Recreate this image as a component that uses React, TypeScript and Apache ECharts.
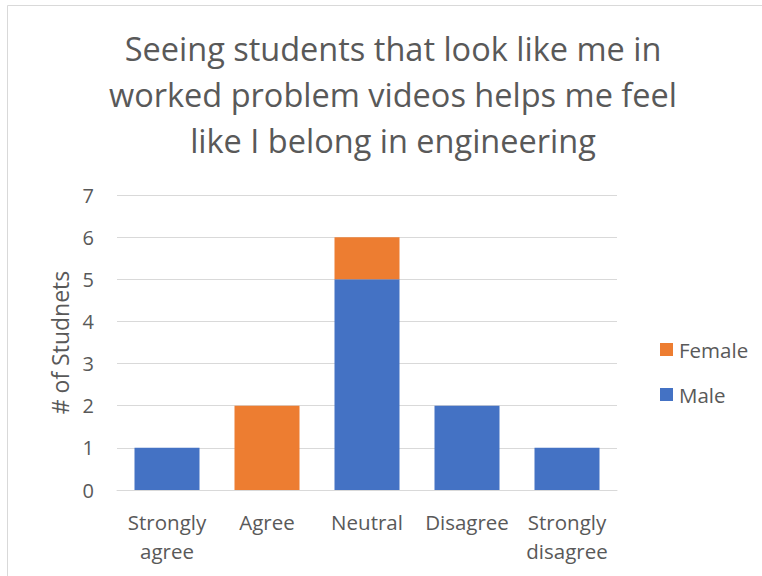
import React, { useEffect, useRef } from "react";
import * as echarts from "echarts";

const categories = ["Strongly\nagree", "Agree", "Neutral", "Disagree", "Strongly\ndisagree"];
const maleValues = [1, 0, 5, 2, 1];
const femaleValues = [0, 2, 1, 0, 0];
const titleLines = [
  "Seeing students that look like me in",
  "worked problem videos helps me feel",
  "like I belong in engineering",
];
const yAxisName = "# of Studnets";

const FONT = "'Open Sans', Lato, sans-serif";
const TEXT = "#595959";

export default function App() {
  const ref = useRef<HTMLDivElement>(null);
  useEffect(() => {
    if (!ref.current) return;
    const chart = echarts.init(ref.current, undefined, { renderer: "svg" });
    chart.setOption({
      animation: false,
      backgroundColor: "#ffffff",
      textStyle: { fontFamily: FONT },
      title: {
        text: titleLines.join("\n"),
        left: 388,
        top: 20,
        textAlign: "center",
        textStyle: {
          fontFamily: FONT,
          fontSize: 32.5,
          fontWeight: "normal",
          color: TEXT,
          lineHeight: 46,
        },
      },
      graphic: [
        {
          type: "rect",
          shape: { x: 7.5, y: 5.5, width: 800, height: 600 },
          style: { fill: "none", stroke: "#d9d9d9", lineWidth: 1 },
          silent: true,
        },
      ],
      legend: {
        orient: "vertical",
        left: 655,
        top: 334,
        itemWidth: 13,
        itemHeight: 13,
        itemGap: 24,
        icon: "rect",
        data: ["Female", "Male"],
        textStyle: { fontFamily: FONT, fontSize: 20.5, color: TEXT, padding: [0, 0, 0, 1] },
      },
      grid: { left: 117, right: 145, top: 195, bottom: 86, containLabel: false },
      xAxis: {
        type: "category",
        data: categories,
        axisLine: { show: true, lineStyle: { color: "#d9d9d9", width: 1 } },
        axisTick: { show: false },
        axisLabel: {
          fontFamily: FONT,
          fontSize: 20.5,
          color: TEXT,
          lineHeight: 29,
          margin: 17,
          interval: 0,
        },
      },
      yAxis: {
        type: "value",
        min: 0,
        max: 7,
        interval: 1,
        name: yAxisName,
        nameLocation: "middle",
        nameGap: 45,
        nameRotate: 90,
        nameTextStyle: { fontFamily: FONT, fontSize: 23, color: TEXT },
        axisLine: { show: false },
        axisTick: { show: false },
        axisLabel: { fontFamily: FONT, fontSize: 20, color: TEXT, margin: 23 },
        splitLine: { lineStyle: { color: "#d9d9d9", width: 1 } },
      },
      series: [
        {
          name: "Male",
          type: "bar",
          stack: "total",
          data: maleValues,
          barWidth: "65%",
          itemStyle: { color: "#4472C4" },
        },
        {
          name: "Female",
          type: "bar",
          stack: "total",
          data: femaleValues,
          barWidth: "65%",
          itemStyle: { color: "#ED7D31" },
        },
      ],
    });
    return () => chart.dispose();
  }, []);
  return (
    <div
      ref={ref}
      style={{ position: "fixed", left: 0, top: 0, width: 762, height: 576 }}
    />
  );
}
